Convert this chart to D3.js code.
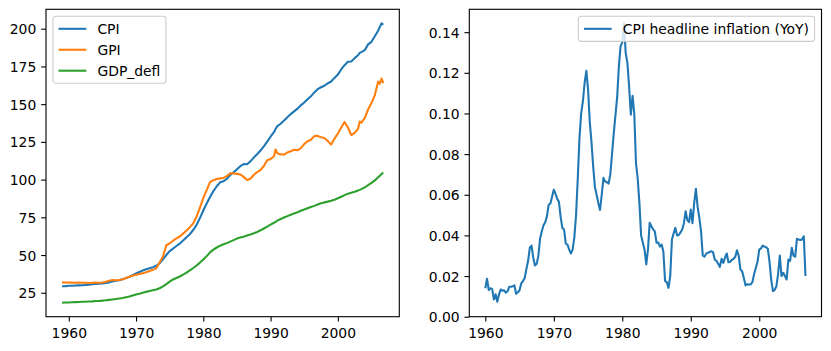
<!DOCTYPE html>
<html>
<head>
<meta charset="utf-8">
<script src="https://cdn.jsdelivr.net/npm/d3@7"></script>
<style>
  body { margin: 0; background: #fff; }
  text { font-family: "DejaVu Sans", sans-serif; }
</style>
</head>
<body>
<svg id="chart"></svg>
<script>
// ---- data ----
const levelDates = [
  1959.0, 1959.5, 1960.0, 1960.5, 1961.0, 1961.5, 1962.0, 1962.5, 1963.0, 1963.5,
  1964.0, 1964.5, 1965.0, 1965.5, 1966.0, 1966.5, 1967.0, 1967.5, 1968.0, 1968.5,
  1969.0, 1969.5, 1970.0, 1970.5, 1971.0, 1971.5, 1972.0, 1972.5, 1973.0, 1973.5,
  1974.0, 1974.5, 1975.0, 1975.5, 1976.0, 1976.5, 1977.0, 1977.5, 1978.0, 1978.5,
  1979.0, 1979.5, 1980.0, 1980.5, 1981.0, 1981.5, 1982.0, 1982.5, 1983.0, 1983.5,
  1984.0, 1984.5, 1985.0, 1985.5, 1986.0, 1986.5, 1987.0, 1987.5, 1988.0, 1988.5,
  1989.0, 1989.5, 1990.0, 1990.5, 1990.75, 1991.0, 1991.5, 1992.0, 1992.5, 1993.0,
  1993.5, 1994.0, 1994.5, 1995.0, 1995.5, 1996.0, 1996.5, 1997.0, 1997.5, 1998.0,
  1998.5, 1999.0, 1999.5, 2000.0, 2000.5, 2001.0, 2001.5, 2002.0, 2002.5, 2003.0,
  2003.25, 2003.5, 2004.0, 2004.5, 2005.0, 2005.5, 2006.0, 2006.25, 2006.5, 2006.75
];

const cpi = [
  29.3, 29.4, 29.6, 29.7, 29.8, 29.9, 30.0, 30.2, 30.4, 30.6,
  30.9, 31.0, 31.2, 31.5, 31.9, 32.4, 32.9, 33.3, 34.0, 34.7,
  35.6, 36.6, 37.8, 38.8, 39.7, 40.6, 41.3, 41.9, 42.9, 44.5,
  47.2, 50.0, 52.6, 54.3, 56.0, 57.6, 59.6, 61.8, 63.8, 66.6,
  70.0, 74.5, 79.5, 84.2, 88.4, 92.4, 95.6, 98.2, 98.9, 100.5,
  103.0, 104.9, 106.8, 108.9, 110.3, 110.2, 112.1, 114.6, 116.8, 119.3,
  122.0, 125.2, 128.4, 131.4, 133.6, 135.4, 137.0, 139.1, 141.3, 143.4,
  145.2, 147.0, 149.2, 151.1, 153.3, 155.2, 157.8, 159.9, 161.2, 162.2,
  163.8, 165.0, 167.4, 169.6, 173.0, 175.8, 178.1, 178.3, 180.5, 182.4,
  184.0, 184.5, 185.8, 189.6, 191.3, 195.0, 198.8, 201.2, 203.6, 202.6
];

const gpi = [
  31.9, 31.8, 31.8, 31.7, 31.6, 31.7, 31.6, 31.6, 31.5, 31.6,
  31.7, 31.6, 31.8, 32.3, 32.9, 33.4, 33.3, 33.5, 34.0, 34.8,
  35.6, 36.4, 37.0, 37.4, 38.0, 38.6, 39.4, 40.2, 41.2, 45.0,
  49.0, 56.5, 57.8, 59.5, 61.0, 62.3, 64.2, 66.2, 68.5, 71.0,
  75.5, 81.5, 87.8, 93.0, 98.3, 99.6, 100.4, 100.8, 101.1, 102.3,
  104.2, 104.1, 103.8, 103.4, 101.8, 99.8, 100.6, 103.0, 105.0, 106.3,
  109.0, 112.8, 113.6, 115.5, 120.0, 117.4, 116.7, 116.6, 118.0, 118.8,
  119.8, 119.4, 120.8, 123.5, 125.4, 126.4, 128.8, 129.0, 128.0, 127.6,
  125.6, 123.2, 127.2, 130.5, 134.5, 138.2, 134.5, 129.5, 131.0, 133.5,
  138.5, 137.8, 140.8, 146.5, 150.8, 156.0, 165.0, 163.5, 167.0, 164.0
];

const gdpDefl = [
  18.4, 18.5, 18.6, 18.7, 18.8, 18.9, 19.0, 19.1, 19.2, 19.3,
  19.5, 19.6, 19.8, 20.0, 20.3, 20.6, 20.9, 21.2, 21.6, 22.1,
  22.6, 23.2, 23.8, 24.4, 25.0, 25.6, 26.1, 26.6, 27.2, 28.0,
  29.2, 30.7, 32.4, 33.8, 34.8, 35.8, 37.0, 38.3, 39.8, 41.4,
  43.1, 45.0, 47.0, 49.3, 51.8, 53.6, 55.0, 56.2, 57.1, 57.9,
  58.9, 59.9, 60.9, 61.6, 62.2, 62.9, 63.6, 64.4, 65.3, 66.4,
  67.6, 68.8, 70.1, 71.4, 72.0, 72.8, 73.9, 74.9, 75.8, 76.7,
  77.6, 78.4, 79.3, 80.2, 81.0, 81.8, 82.6, 83.5, 84.3, 84.9,
  85.4, 86.0, 86.7, 87.6, 88.6, 89.7, 90.7, 91.3, 91.9, 92.8,
  93.2, 93.7, 94.9, 96.3, 97.8, 99.5, 101.5, 102.6, 103.7, 104.6
];

// quarterly, starting 1960Q1
const inflationStart = 1960;
const inflation = [
  0.0140, 0.0187, 0.0131, 0.0140, 0.0137, 0.0085, 0.0110, 0.0074,
  0.0110, 0.0134, 0.0128, 0.0130, 0.0118, 0.0125, 0.0147, 0.0147,
  0.0150, 0.0154, 0.0113, 0.0120, 0.0130, 0.0164, 0.0175, 0.0190,
  0.0235, 0.0275, 0.0340, 0.0350, 0.0290, 0.0252, 0.0260, 0.0300,
  0.0385, 0.0420, 0.0450, 0.0465, 0.0495, 0.0550, 0.0557, 0.0590,
  0.0625, 0.0605, 0.0580, 0.0565, 0.0490, 0.0437, 0.0429, 0.0360,
  0.0355, 0.0330, 0.0311, 0.0330, 0.0390, 0.0500, 0.0680, 0.0880,
  0.1002, 0.1060, 0.1150, 0.1210, 0.1120, 0.0960, 0.0860, 0.0740,
  0.0640, 0.0600, 0.0560, 0.0525, 0.0600, 0.0683, 0.0665, 0.0662,
  0.0655, 0.0700, 0.0800, 0.0900, 0.0990, 0.1080, 0.1231, 0.1330,
  0.1350, 0.1444, 0.1297, 0.1248, 0.1130, 0.0994, 0.1087, 0.1000,
  0.0756, 0.0680, 0.0560, 0.0400, 0.0364, 0.0330, 0.0257, 0.0330,
  0.0462, 0.0445, 0.0430, 0.0420, 0.0364, 0.0365, 0.0345, 0.0355,
  0.0320, 0.0175, 0.0170, 0.0142, 0.0200, 0.0380, 0.0410, 0.0437,
  0.0400, 0.0402, 0.0415, 0.0429, 0.0460, 0.0519, 0.0475, 0.0465,
  0.0527, 0.0460, 0.0560, 0.0629, 0.0540, 0.0486, 0.0420, 0.0301,
  0.0295, 0.0310, 0.0315, 0.0318, 0.0322, 0.0318, 0.0281, 0.0275,
  0.0260, 0.0245, 0.0285, 0.0265, 0.0290, 0.0311, 0.0268, 0.0270,
  0.0280, 0.0285, 0.0295, 0.0327, 0.0300, 0.0232, 0.0224, 0.0190,
  0.0154, 0.0160, 0.0158, 0.0159, 0.0170, 0.0210, 0.0241, 0.0270,
  0.0331, 0.0335, 0.0350, 0.0345, 0.0342, 0.0334, 0.0270, 0.0180,
  0.0126, 0.0132, 0.0150, 0.0210, 0.0301, 0.0200, 0.0216, 0.0200,
  0.0183, 0.0281, 0.0275, 0.0339, 0.0300, 0.0295, 0.0383, 0.0380,
  0.0377, 0.0380, 0.0396, 0.0200
];

const yearTicks = [1960, 1970, 1980, 1990, 2000];
const levelTicks = [25, 50, 75, 100, 125, 150, 175, 200];
const inflationTicks = [0, 0.02, 0.04, 0.06, 0.08, 0.10, 0.12, 0.14];

const colors = ["#1f77b4", "#ff7f0e", "#2ca02c"];

// matplotlib-ish sizes at 100 dpi
const FS = 13.9;
const TICK = 4.86;
const LW = 2.08;
const SPINE = 1.11;

class LinePanel {
  constructor(_config, _series) {
    this.config = {
      parentElement: _config.parentElement,
      left: _config.left,
      top: _config.top,
      width: _config.width,
      height: _config.height,
      yTicks: _config.yTicks,
      yFormat: _config.yFormat,
      yFloor: _config.yFloor,
      legendAnchor: _config.legendAnchor || "left"
    };
    this.series = _series;
    this.initVis();
  }

  initVis() {
    let vis = this;
    vis.chart = vis.config.parentElement.append("g")
      .attr("transform", `translate(${vis.config.left},${vis.config.top})`);

    vis.xScale = d3.scaleLinear().range([0, vis.config.width]);
    vis.yScale = d3.scaleLinear().range([vis.config.height, 0]);

    vis.xAxis = d3.axisBottom(vis.xScale)
      .tickValues(yearTicks)
      .tickFormat(d3.format("d"))
      .tickSize(TICK)
      .tickPadding(TICK);

    vis.yAxis = d3.axisLeft(vis.yScale)
      .tickValues(vis.config.yTicks)
      .tickFormat(vis.config.yFormat)
      .tickSize(TICK)
      .tickPadding(TICK);

    vis.updateVis();
  }

  updateVis() {
    let vis = this;
    // 5% margins like matplotlib autoscale
    const allX = vis.series.flatMap(s => s.x);
    const allY = vis.series.flatMap(s => s.y);
    const [x0, x1] = d3.extent(allX);
    const [y0, y1] = d3.extent(allY);
    const px = (x1 - x0) * 0.05, py = (y1 - y0) * 0.05;
    vis.xScale.domain([x0 - px, x1 + px]);
    vis.yScale.domain([vis.config.yFloor != null ? vis.config.yFloor : y0 - py, y1 + py]);
    vis.renderVis();
  }

  renderVis() {
    let vis = this;
    const line = d3.line()
      .x(d => vis.xScale(d[0]))
      .y(d => vis.yScale(d[1]));

    vis.chart.selectAll(".series")
      .data(vis.series)
      .join("path")
      .attr("class", "series")
      .attr("fill", "none")
      .attr("stroke", d => d.color)
      .attr("stroke-width", LW)
      .attr("stroke-linejoin", "round")
      .attr("d", d => line(d.x.map((xv, i) => [xv, d.y[i]])));

    const xAxisG = vis.chart.append("g")
      .attr("transform", `translate(0,${vis.config.height})`)
      .call(vis.xAxis)
      .call(g => g.select(".domain").remove());
    xAxisG.selectAll("text").attr("dy", "0.86em");

    const yAxisG = vis.chart.append("g")
      .call(vis.yAxis)
      .call(g => g.select(".domain").remove());
    yAxisG.selectAll("text").attr("dy", "0.36em");

    [xAxisG, yAxisG].forEach(g => {
      g.attr("font-family", null).attr("font-size", null);
      g.selectAll("line").attr("stroke", "#000").attr("stroke-width", SPINE);
      g.selectAll("text").attr("fill", "#000").style("font-size", FS + "px");
    });

    // frame
    vis.chart.append("rect")
      .attr("width", vis.config.width)
      .attr("height", vis.config.height)
      .attr("fill", "none")
      .attr("stroke", "#000")
      .attr("stroke-width", SPINE);

    vis.renderLegend();
  }

  renderLegend() {
    let vis = this;
    const pad = 0.4 * FS, handle = 2.0 * FS, textPad = 0.8 * FS;
    const rowH = 14.0, gap = 0.5 * FS, offset = 0.5 * FS;

    const leg = vis.chart.append("g");
    const box = leg.append("rect")
      .attr("fill", "#fff")
      .attr("fill-opacity", 0.8)
      .attr("stroke", "#cccccc")
      .attr("stroke-width", SPINE)
      .attr("rx", 0.2 * FS);

    let maxW = 0;
    vis.series.forEach((s, i) => {
      const cy = pad + rowH / 2 + i * (rowH + gap);
      leg.append("line")
        .attr("x1", pad).attr("x2", pad + handle)
        .attr("y1", cy).attr("y2", cy)
        .attr("stroke", s.color).attr("stroke-width", LW);
      const t = leg.append("text")
        .attr("x", pad + handle + textPad)
        .attr("y", cy)
        .attr("dy", "0.36em")
        .style("font-size", FS + "px")
        .attr("fill", "#000")
        .text(s.name);
      maxW = Math.max(maxW, t.node().getComputedTextLength());
    });

    const w = pad + handle + textPad + maxW + pad;
    const h = 2 * pad + vis.series.length * rowH + (vis.series.length - 1) * gap;
    box.attr("width", w).attr("height", h);

    const lx = vis.config.legendAnchor === "left" ? offset : vis.config.width - offset - w;
    leg.attr("transform", `translate(${lx},${offset})`);
  }
}

const svg = d3.select("#chart")
  .attr("width", 831)
  .attr("height", 351);

svg.append("rect").attr("width", 831).attr("height", 351).attr("fill", "#fff");

new LinePanel({
  parentElement: svg,
  left: 46, top: 9.3, width: 353.3, height: 307.4,
  yTicks: levelTicks,
  yFormat: d3.format("d"),
  legendAnchor: "left"
}, [
  { name: "CPI", x: levelDates, y: cpi, color: colors[0] },
  { name: "GPI", x: levelDates, y: gpi, color: colors[1] },
  { name: "GDP_defl", x: levelDates, y: gdpDefl, color: colors[2] }
]);

const inflationDates = inflation.map((d, i) => inflationStart + i / 4);

new LinePanel({
  parentElement: svg,
  left: 469.3, top: 9.3, width: 352.2, height: 307.4,
  yTicks: inflationTicks,
  yFormat: d3.format(".2f"),
  yFloor: 0,
  legendAnchor: "right"
}, [
  { name: "CPI headline inflation (YoY)", x: inflationDates, y: inflation, color: colors[0] }
]);
</script>
</body>
</html>
